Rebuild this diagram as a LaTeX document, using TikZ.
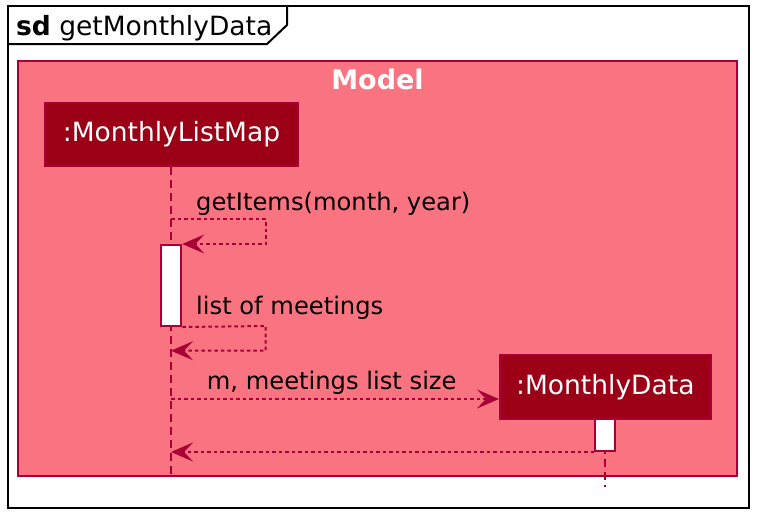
\documentclass[tikz,border=0pt]{standalone}
\usepackage{fontspec}
\setmainfont{DejaVu Sans}
\usepackage{xcolor}
\usepackage{tikz}
\usetikzlibrary{arrows.meta}

\definecolor{modelfill}{RGB}{249,115,128}
\definecolor{partfill}{RGB}{155,0,22}
\definecolor{umlred}{RGB}{168,0,54}

\begin{document}
\begin{tikzpicture}[x=1pt, y=-1pt,
		part/.style={draw=umlred, line width=2pt, fill=partfill, text=white, inner sep=0pt, font=\fontsize{26.5}{30}\selectfont},
		bar/.style={draw=umlred, line width=2pt, fill=white, minimum width=20pt, inner sep=0pt},
		life/.style={umlred, line width=2pt, dash pattern=on 8pt off 5pt},
		msg/.style={umlred, line width=2pt, dash pattern=on 3.5pt off 3pt, -{Stealth[length=22pt, width=19pt, inset=9pt]}},
		lbl/.style={anchor=base west, inner sep=0pt, font=\fontsize{24.2}{29}\selectfont}]
	\useasboundingbox (0,0) rectangle (769,528);
	\draw[line width=2pt] (8,6) rectangle (749,508);
	\draw[line width=2pt] (8,44) -- (267,44) -- (287,25) -- (287,6);
	\node[anchor=base west, inner sep=0pt, font=\fontsize{26.5}{30}\selectfont] (title) at (16,35) {\textbf{sd} getMonthlyData};
	\draw[umlred, line width=2pt, fill=modelfill] (18,61) rectangle (737,476);
	\node[anchor=base, inner sep=0pt, text=white, font=\fontsize{27}{30}\bfseries] (model) at (377.5,89) {Model};
	\node[part, minimum width=253pt, minimum height=63pt] (mlm) at (171.5,134.5) {:MonthlyListMap};
	\node[part, minimum width=210.7pt, minimum height=63.7pt] (md) at (605.3,387) {:MonthlyData};
	\coordinate (mlmend) at (171,476);
	\coordinate (mdend) at (605.3,487);
	\draw[life] (mlm.south -| mlmend) -- (mlmend);
	\draw[life] (md.south) -- (mdend);
	\node[bar, minimum height=81pt] (act1) at (171.3,285.5) {};
	\node[bar, minimum height=32.3pt] (act2) at (605.3,434.85) {};
	\coordinate (call1) at (171,219.3);
	\coordinate (call3) at (171,399);
	\draw[msg] (call1) -- (265.7,219.3) |- (act1.north east);
	\draw[msg] (act1.south east) -- (265.7,326) |- (171,350.7);
	\draw[msg] (call3) -- (call3 -| md.west);
	\draw[msg] (act2.south west) -- (act2.south west -| mlmend);
	\node[lbl] (l1) at (196,210) {getItems(month, year)};
	\node[lbl] (l2) at (196,314.3) {list of meetings};
	\node[lbl] (l3) at (206.7,389.3) {m, meetings list size};
\end{tikzpicture}
\end{document}
